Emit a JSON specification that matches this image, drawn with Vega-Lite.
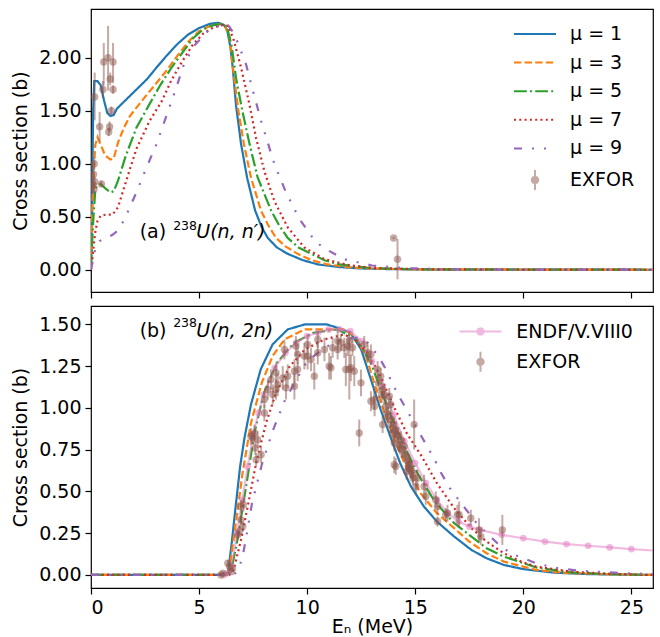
{
"$schema": "https://vega.github.io/schema/vega-lite/v6.json",
"background": "white",
"padding": {"left": 11, "top": 8, "right": 4, "bottom": 0},
"config": {
  "font": "DejaVu Sans",
  "view": {"stroke": "#000", "strokeWidth": 1.2},
  "axis": {"domain": false, "grid": false, "tickColor": "#000", "tickSize": 6, "tickWidth": 1.2,
           "labelFont": "DejaVu Sans", "labelFontSize": 19, "labelColor": "#000", "labelPadding": 4,
           "titleFont": "DejaVu Sans", "titleFontSize": 19, "titleFontWeight": "normal", "titleColor": "#000"},
  "axisX": {"titlePadding": 0},
  "axisY": {"titlePadding": 8},
  "legend": {"labelFont": "DejaVu Sans", "labelFontSize": 19, "labelColor": "#000", "padding": 0}
},
"datasets": {
  "top_lines": [
    {"series":"μ = 1","E":0,"xs":0.02},{"series":"μ = 1","E":0.05,"xs":0.6},{"series":"μ = 1","E":0.1,"xs":1.5},{"series":"μ = 1","E":0.15,"xs":1.78},{"series":"μ = 1","E":0.3,"xs":1.78},{"series":"μ = 1","E":0.45,"xs":1.74},{"series":"μ = 1","E":0.6,"xs":1.6},{"series":"μ = 1","E":0.75,"xs":1.48},{"series":"μ = 1","E":0.9,"xs":1.45},{"series":"μ = 1","E":1.05,"xs":1.46},{"series":"μ = 1","E":1.2,"xs":1.52},{"series":"μ = 1","E":1.5,"xs":1.58},{"series":"μ = 1","E":1.8,"xs":1.64},{"series":"μ = 1","E":2.2,"xs":1.72},{"series":"μ = 1","E":2.6,"xs":1.8},{"series":"μ = 1","E":3.0,"xs":1.9},{"series":"μ = 1","E":3.5,"xs":2.02},{"series":"μ = 1","E":4.0,"xs":2.13},{"series":"μ = 1","E":4.5,"xs":2.22},{"series":"μ = 1","E":5.0,"xs":2.28},{"series":"μ = 1","E":5.5,"xs":2.32},{"series":"μ = 1","E":5.9,"xs":2.33},{"series":"μ = 1","E":6.15,"xs":2.31},{"series":"μ = 1","E":6.3,"xs":2.26},{"series":"μ = 1","E":6.45,"xs":2.1},{"series":"μ = 1","E":6.56,"xs":1.9},{"series":"μ = 1","E":6.71,"xs":1.55},{"series":"μ = 1","E":6.94,"xs":1.19},{"series":"μ = 1","E":7.22,"xs":0.87},{"series":"μ = 1","E":7.59,"xs":0.56},{"series":"μ = 1","E":7.9,"xs":0.4},{"series":"μ = 1","E":8.18,"xs":0.3},{"series":"μ = 1","E":8.6,"xs":0.21},{"series":"μ = 1","E":9.1,"xs":0.15},{"series":"μ = 1","E":9.8,"xs":0.09},{"series":"μ = 1","E":10.5,"xs":0.05},{"series":"μ = 1","E":11.5,"xs":0.025},{"series":"μ = 1","E":12.5,"xs":0.012},{"series":"μ = 1","E":14,"xs":0.005},{"series":"μ = 1","E":16,"xs":0.002},{"series":"μ = 1","E":26,"xs":0},
    {"series":"μ = 3","E":0,"xs":0.05},{"series":"μ = 3","E":0.05,"xs":0.5},{"series":"μ = 3","E":0.12,"xs":0.9},{"series":"μ = 3","E":0.2,"xs":1.18},{"series":"μ = 3","E":0.3,"xs":1.25},{"series":"μ = 3","E":0.45,"xs":1.18},{"series":"μ = 3","E":0.65,"xs":1.08},{"series":"μ = 3","E":0.9,"xs":1.04},{"series":"μ = 3","E":1.05,"xs":1.05},{"series":"μ = 3","E":1.25,"xs":1.2},{"series":"μ = 3","E":1.5,"xs":1.33},{"series":"μ = 3","E":1.8,"xs":1.45},{"series":"μ = 3","E":2.3,"xs":1.58},{"series":"μ = 3","E":2.9,"xs":1.73},{"series":"μ = 3","E":3.5,"xs":1.88},{"series":"μ = 3","E":4.0,"xs":2.02},{"series":"μ = 3","E":4.5,"xs":2.15},{"series":"μ = 3","E":5.0,"xs":2.25},{"series":"μ = 3","E":5.5,"xs":2.3},{"series":"μ = 3","E":6.0,"xs":2.32},{"series":"μ = 3","E":6.2,"xs":2.3},{"series":"μ = 3","E":6.4,"xs":2.2},{"series":"μ = 3","E":6.6,"xs":1.85},{"series":"μ = 3","E":6.82,"xs":1.5},{"series":"μ = 3","E":7.07,"xs":1.19},{"series":"μ = 3","E":7.4,"xs":0.87},{"series":"μ = 3","E":7.86,"xs":0.56},{"series":"μ = 3","E":8.2,"xs":0.42},{"series":"μ = 3","E":8.56,"xs":0.3},{"series":"μ = 3","E":9.0,"xs":0.22},{"series":"μ = 3","E":9.56,"xs":0.15},{"series":"μ = 3","E":10.2,"xs":0.09},{"series":"μ = 3","E":10.95,"xs":0.05},{"series":"μ = 3","E":12,"xs":0.022},{"series":"μ = 3","E":13,"xs":0.012},{"series":"μ = 3","E":15,"xs":0.004},{"series":"μ = 3","E":26,"xs":0},
    {"series":"μ = 5","E":0,"xs":0.02},{"series":"μ = 5","E":0.05,"xs":0.25},{"series":"μ = 5","E":0.1,"xs":0.45},{"series":"μ = 5","E":0.2,"xs":0.76},{"series":"μ = 5","E":0.3,"xs":0.8},{"series":"μ = 5","E":0.45,"xs":0.81},{"series":"μ = 5","E":0.65,"xs":0.77},{"series":"μ = 5","E":0.9,"xs":0.73},{"series":"μ = 5","E":1.05,"xs":0.74},{"series":"μ = 5","E":1.25,"xs":0.84},{"series":"μ = 5","E":1.6,"xs":1.07},{"series":"μ = 5","E":2.1,"xs":1.34},{"series":"μ = 5","E":2.7,"xs":1.56},{"series":"μ = 5","E":3.2,"xs":1.74},{"series":"μ = 5","E":3.7,"xs":1.9},{"series":"μ = 5","E":4.2,"xs":2.04},{"series":"μ = 5","E":4.7,"xs":2.18},{"series":"μ = 5","E":5.2,"xs":2.27},{"series":"μ = 5","E":5.7,"xs":2.31},{"series":"μ = 5","E":6.1,"xs":2.32},{"series":"μ = 5","E":6.3,"xs":2.28},{"series":"μ = 5","E":6.5,"xs":2.12},{"series":"μ = 5","E":6.71,"xs":1.81},{"series":"μ = 5","E":7.0,"xs":1.5},{"series":"μ = 5","E":7.33,"xs":1.19},{"series":"μ = 5","E":7.71,"xs":0.87},{"series":"μ = 5","E":8.33,"xs":0.56},{"series":"μ = 5","E":8.7,"xs":0.42},{"series":"μ = 5","E":9.1,"xs":0.3},{"series":"μ = 5","E":9.6,"xs":0.21},{"series":"μ = 5","E":10.2,"xs":0.15},{"series":"μ = 5","E":10.8,"xs":0.09},{"series":"μ = 5","E":11.5,"xs":0.05},{"series":"μ = 5","E":13,"xs":0.015},{"series":"μ = 5","E":15,"xs":0.004},{"series":"μ = 5","E":26,"xs":0},
    {"series":"μ = 7","E":0,"xs":0},{"series":"μ = 7","E":0.05,"xs":0.08},{"series":"μ = 7","E":0.1,"xs":0.18},{"series":"μ = 7","E":0.2,"xs":0.36},{"series":"μ = 7","E":0.3,"xs":0.46},{"series":"μ = 7","E":0.45,"xs":0.51},{"series":"μ = 7","E":0.7,"xs":0.52},{"series":"μ = 7","E":1.0,"xs":0.52},{"series":"μ = 7","E":1.25,"xs":0.59},{"series":"μ = 7","E":1.6,"xs":0.82},{"series":"μ = 7","E":2.1,"xs":1.14},{"series":"μ = 7","E":2.7,"xs":1.4},{"series":"μ = 7","E":3.3,"xs":1.6},{"series":"μ = 7","E":3.7,"xs":1.78},{"series":"μ = 7","E":4.2,"xs":1.96},{"series":"μ = 7","E":4.7,"xs":2.12},{"series":"μ = 7","E":5.2,"xs":2.23},{"series":"μ = 7","E":5.7,"xs":2.29},{"series":"μ = 7","E":6.1,"xs":2.31},{"series":"μ = 7","E":6.35,"xs":2.3},{"series":"μ = 7","E":6.6,"xs":2.17},{"series":"μ = 7","E":6.94,"xs":1.91},{"series":"μ = 7","E":7.33,"xs":1.56},{"series":"μ = 7","E":7.63,"xs":1.25},{"series":"μ = 7","E":8.02,"xs":0.93},{"series":"μ = 7","E":8.48,"xs":0.65},{"series":"μ = 7","E":9.1,"xs":0.4},{"series":"μ = 7","E":9.87,"xs":0.21},{"series":"μ = 7","E":10.8,"xs":0.1},{"series":"μ = 7","E":12,"xs":0.04},{"series":"μ = 7","E":13,"xs":0.02},{"series":"μ = 7","E":14,"xs":0.01},{"series":"μ = 7","E":16,"xs":0.003},{"series":"μ = 7","E":26,"xs":0},
    {"series":"μ = 9","E":0,"xs":0},{"series":"μ = 9","E":0.1,"xs":0.1},{"series":"μ = 9","E":0.2,"xs":0.2},{"series":"μ = 9","E":0.4,"xs":0.27},{"series":"μ = 9","E":0.7,"xs":0.3},{"series":"μ = 9","E":1.0,"xs":0.33},{"series":"μ = 9","E":1.3,"xs":0.38},{"series":"μ = 9","E":1.6,"xs":0.5},{"series":"μ = 9","E":2.1,"xs":0.73},{"series":"μ = 9","E":2.6,"xs":0.98},{"series":"μ = 9","E":3.0,"xs":1.17},{"series":"μ = 9","E":3.4,"xs":1.4},{"series":"μ = 9","E":3.9,"xs":1.69},{"series":"μ = 9","E":4.3,"xs":1.94},{"series":"μ = 9","E":4.8,"xs":2.12},{"series":"μ = 9","E":5.4,"xs":2.25},{"series":"μ = 9","E":6.0,"xs":2.31},{"series":"μ = 9","E":6.3,"xs":2.32},{"series":"μ = 9","E":6.64,"xs":2.22},{"series":"μ = 9","E":7.17,"xs":1.94},{"series":"μ = 9","E":7.45,"xs":1.72},{"series":"μ = 9","E":7.86,"xs":1.41},{"series":"μ = 9","E":8.48,"xs":1.0},{"series":"μ = 9","E":9.02,"xs":0.73},{"series":"μ = 9","E":9.64,"xs":0.48},{"series":"μ = 9","E":10.4,"xs":0.26},{"series":"μ = 9","E":11.0,"xs":0.18},{"series":"μ = 9","E":11.7,"xs":0.1},{"series":"μ = 9","E":13,"xs":0.04},{"series":"μ = 9","E":14.5,"xs":0.015},{"series":"μ = 9","E":17,"xs":0.003},{"series":"μ = 9","E":26,"xs":0}
  ],
  "top_exfor": [
    {"E":0.10,"xs":0.80,"lo":0.75,"hi":0.85},{"E":0.12,"xs":0.90,"lo":0.85,"hi":0.95},{"E":0.15,"xs":1.00,"lo":0.94,"hi":1.06},{"E":0.17,"xs":0.83,"lo":0.78,"hi":0.88},{"E":0.14,"xs":0.76,"lo":0.71,"hi":0.81},{"E":0.17,"xs":1.63,"lo":1.41,"hi":1.86},{"E":0.40,"xs":1.35,"lo":1.21,"hi":1.49},{"E":0.48,"xs":0.81,"lo":0.78,"hi":0.84},{"E":0.55,"xs":1.70,"lo":1.62,"hi":1.78},{"E":0.59,"xs":1.96,"lo":1.74,"hi":2.14},{"E":0.79,"xs":2.00,"lo":1.69,"hi":2.30},{"E":0.89,"xs":1.80,"lo":1.74,"hi":1.86},{"E":0.86,"xs":1.35,"lo":1.30,"hi":1.40},{"E":0.82,"xs":1.30,"lo":1.26,"hi":1.34},{"E":0.94,"xs":1.50,"lo":1.46,"hi":1.54},{"E":1.02,"xs":1.96,"lo":1.76,"hi":2.14},{"E":1.02,"xs":1.70,"lo":1.66,"hi":1.74},{"E":14.0,"xs":0.30,"lo":0.29,"hi":0.31},{"E":14.18,"xs":0.10,"lo":-0.09,"hi":0.29}
  ],
  "bot_lines": [
    {"series":"μ = 1","E":0,"xs":0},{"series":"μ = 1","E":6.2,"xs":0},{"series":"μ = 1","E":6.35,"xs":0.02},{"series":"μ = 1","E":6.5,"xs":0.18},{"series":"μ = 1","E":6.7,"xs":0.42},{"series":"μ = 1","E":6.9,"xs":0.65},{"series":"μ = 1","E":7.1,"xs":0.82},{"series":"μ = 1","E":7.4,"xs":1.02},{"series":"μ = 1","E":7.85,"xs":1.23},{"series":"μ = 1","E":8.4,"xs":1.38},{"series":"μ = 1","E":9.1,"xs":1.47},{"series":"μ = 1","E":9.9,"xs":1.5},{"series":"μ = 1","E":10.9,"xs":1.5},{"series":"μ = 1","E":11.4,"xs":1.48},{"series":"μ = 1","E":12.0,"xs":1.45},{"series":"μ = 1","E":12.5,"xs":1.35},{"series":"μ = 1","E":12.95,"xs":1.17},{"series":"μ = 1","E":13.4,"xs":0.99},{"series":"μ = 1","E":13.9,"xs":0.81},{"series":"μ = 1","E":14.3,"xs":0.67},{"series":"μ = 1","E":14.8,"xs":0.53},{"series":"μ = 1","E":15.4,"xs":0.41},{"series":"μ = 1","E":16.0,"xs":0.32},{"series":"μ = 1","E":16.8,"xs":0.23},{"series":"μ = 1","E":17.6,"xs":0.15},{"series":"μ = 1","E":18.3,"xs":0.1},{"series":"μ = 1","E":19.1,"xs":0.06},{"series":"μ = 1","E":20.0,"xs":0.035},{"series":"μ = 1","E":21.4,"xs":0.014},{"series":"μ = 1","E":23,"xs":0.005},{"series":"μ = 1","E":26,"xs":0},
    {"series":"μ = 3","E":0,"xs":0},{"series":"μ = 3","E":6.2,"xs":0},{"series":"μ = 3","E":6.4,"xs":0.03},{"series":"μ = 3","E":6.7,"xs":0.31},{"series":"μ = 3","E":7.0,"xs":0.6},{"series":"μ = 3","E":7.4,"xs":0.91},{"series":"μ = 3","E":7.9,"xs":1.15},{"series":"μ = 3","E":8.4,"xs":1.31},{"series":"μ = 3","E":8.95,"xs":1.41},{"series":"μ = 3","E":9.9,"xs":1.47},{"series":"μ = 3","E":11.0,"xs":1.47},{"series":"μ = 3","E":11.7,"xs":1.47},{"series":"μ = 3","E":12.2,"xs":1.43},{"series":"μ = 3","E":12.7,"xs":1.32},{"series":"μ = 3","E":13.15,"xs":1.13},{"series":"μ = 3","E":13.6,"xs":0.96},{"series":"μ = 3","E":14.1,"xs":0.79},{"series":"μ = 3","E":14.6,"xs":0.64},{"series":"μ = 3","E":15.25,"xs":0.49},{"series":"μ = 3","E":16.0,"xs":0.37},{"series":"μ = 3","E":16.8,"xs":0.28},{"series":"μ = 3","E":17.5,"xs":0.2},{"series":"μ = 3","E":18.3,"xs":0.13},{"series":"μ = 3","E":19.1,"xs":0.08},{"series":"μ = 3","E":20.6,"xs":0.03},{"series":"μ = 3","E":22,"xs":0.012},{"series":"μ = 3","E":24,"xs":0.004},{"series":"μ = 3","E":26,"xs":0},
    {"series":"μ = 5","E":0,"xs":0},{"series":"μ = 5","E":6.3,"xs":0},{"series":"μ = 5","E":6.5,"xs":0.03},{"series":"μ = 5","E":6.8,"xs":0.23},{"series":"μ = 5","E":7.2,"xs":0.55},{"series":"μ = 5","E":7.56,"xs":0.85},{"series":"μ = 5","E":8.0,"xs":1.09},{"series":"μ = 5","E":8.6,"xs":1.27},{"series":"μ = 5","E":9.4,"xs":1.39},{"series":"μ = 5","E":10.3,"xs":1.45},{"series":"μ = 5","E":11.4,"xs":1.47},{"series":"μ = 5","E":12.3,"xs":1.41},{"series":"μ = 5","E":12.95,"xs":1.27},{"series":"μ = 5","E":13.4,"xs":1.11},{"series":"μ = 5","E":13.9,"xs":0.95},{"series":"μ = 5","E":14.5,"xs":0.77},{"series":"μ = 5","E":15.1,"xs":0.61},{"series":"μ = 5","E":15.9,"xs":0.44},{"series":"μ = 5","E":16.8,"xs":0.31},{"series":"μ = 5","E":17.6,"xs":0.23},{"series":"μ = 5","E":18.3,"xs":0.16},{"series":"μ = 5","E":19.1,"xs":0.11},{"series":"μ = 5","E":20.6,"xs":0.045},{"series":"μ = 5","E":22.2,"xs":0.015},{"series":"μ = 5","E":24,"xs":0.005},{"series":"μ = 5","E":26,"xs":0},
    {"series":"μ = 7","E":0,"xs":0},{"series":"μ = 7","E":6.4,"xs":0},{"series":"μ = 7","E":6.6,"xs":0.03},{"series":"μ = 7","E":6.94,"xs":0.21},{"series":"μ = 7","E":7.25,"xs":0.41},{"series":"μ = 7","E":7.64,"xs":0.67},{"series":"μ = 7","E":8.1,"xs":0.91},{"series":"μ = 7","E":8.56,"xs":1.09},{"series":"μ = 7","E":9.2,"xs":1.25},{"series":"μ = 7","E":9.9,"xs":1.35},{"series":"μ = 7","E":10.8,"xs":1.41},{"series":"μ = 7","E":11.7,"xs":1.44},{"series":"μ = 7","E":12.2,"xs":1.41},{"series":"μ = 7","E":12.8,"xs":1.33},{"series":"μ = 7","E":13.4,"xs":1.19},{"series":"μ = 7","E":14.0,"xs":1.01},{"series":"μ = 7","E":14.6,"xs":0.85},{"series":"μ = 7","E":15.3,"xs":0.71},{"series":"μ = 7","E":16.0,"xs":0.55},{"series":"μ = 7","E":16.8,"xs":0.4},{"series":"μ = 7","E":17.6,"xs":0.28},{"series":"μ = 7","E":18.3,"xs":0.2},{"series":"μ = 7","E":19.1,"xs":0.13},{"series":"μ = 7","E":19.9,"xs":0.08},{"series":"μ = 7","E":20.6,"xs":0.05},{"series":"μ = 7","E":22.2,"xs":0.02},{"series":"μ = 7","E":24,"xs":0.007},{"series":"μ = 7","E":26,"xs":0},
    {"series":"μ = 9","E":0,"xs":0},{"series":"μ = 9","E":6.6,"xs":0},{"series":"μ = 9","E":6.8,"xs":0.03},{"series":"μ = 9","E":7.0,"xs":0.1},{"series":"μ = 9","E":7.2,"xs":0.24},{"series":"μ = 9","E":7.45,"xs":0.43},{"series":"μ = 9","E":7.9,"xs":0.66},{"series":"μ = 9","E":8.4,"xs":0.86},{"series":"μ = 9","E":8.95,"xs":1.04},{"series":"μ = 9","E":9.5,"xs":1.17},{"series":"μ = 9","E":10.0,"xs":1.28},{"series":"μ = 9","E":10.8,"xs":1.36},{"series":"μ = 9","E":11.6,"xs":1.41},{"series":"μ = 9","E":12.3,"xs":1.42},{"series":"μ = 9","E":12.8,"xs":1.39},{"series":"μ = 9","E":13.3,"xs":1.31},{"series":"μ = 9","E":13.6,"xs":1.24},{"series":"μ = 9","E":14.2,"xs":1.08},{"series":"μ = 9","E":14.6,"xs":0.99},{"series":"μ = 9","E":15.2,"xs":0.85},{"series":"μ = 9","E":15.9,"xs":0.69},{"series":"μ = 9","E":16.2,"xs":0.61},{"series":"μ = 9","E":16.6,"xs":0.52},{"series":"μ = 9","E":17.3,"xs":0.4},{"series":"μ = 9","E":17.9,"xs":0.3},{"series":"μ = 9","E":18.8,"xs":0.19},{"series":"μ = 9","E":19.4,"xs":0.13},{"series":"μ = 9","E":20.6,"xs":0.07},{"series":"μ = 9","E":21.4,"xs":0.045},{"series":"μ = 9","E":22.6,"xs":0.025},{"series":"μ = 9","E":24.8,"xs":0.01},{"series":"μ = 9","E":26,"xs":0.005}
  ],
  "bot_endf": [
    {"E":6.15,"xs":0},{"E":6.3,"xs":0.01},{"E":6.5,"xs":0.05},{"E":6.75,"xs":0.25},{"E":7.0,"xs":0.45},{"E":7.25,"xs":0.65},{"E":7.5,"xs":0.84},{"E":7.75,"xs":0.97},{"E":8.0,"xs":1.08},{"E":8.5,"xs":1.24},{"E":9.0,"xs":1.33},{"E":9.5,"xs":1.39},{"E":10.0,"xs":1.43},{"E":10.5,"xs":1.45},{"E":11.0,"xs":1.47},{"E":11.5,"xs":1.47},{"E":12.0,"xs":1.46},{"E":12.5,"xs":1.4},{"E":13.0,"xs":1.28},{"E":13.5,"xs":1.13},{"E":14.0,"xs":0.96},{"E":14.5,"xs":0.8},{"E":15.0,"xs":0.67},{"E":15.5,"xs":0.55},{"E":16.0,"xs":0.45},{"E":16.5,"xs":0.37},{"E":17.0,"xs":0.32},{"E":17.5,"xs":0.29},{"E":18.0,"xs":0.27},{"E":19.0,"xs":0.24},{"E":20.0,"xs":0.22},{"E":21.0,"xs":0.2},{"E":22.0,"xs":0.185},{"E":23.0,"xs":0.175},{"E":24.0,"xs":0.165},{"E":25.0,"xs":0.155},{"E":27.0,"xs":0.138}
  ],
  "bot_exfor": [
    {"E":6.02,"xs":0.00,"lo":-0.01,"hi":0.01},{"E":6.10,"xs":0.01,"lo":0.00,"hi":0.02},{"E":6.33,"xs":0.07,"lo":0.05,"hi":0.09},{"E":6.41,"xs":0.05,"lo":0.03,"hi":0.07},{"E":6.48,"xs":0.02,"lo":0.01,"hi":0.03},{"E":6.55,"xs":0.04,"lo":0.03,"hi":0.05},
    {"E":6.79,"xs":0.24,"lo":0.21,"hi":0.27},{"E":6.86,"xs":0.26,"lo":0.23,"hi":0.29},{"E":6.94,"xs":0.33,"lo":0.30,"hi":0.36},{"E":6.94,"xs":0.41,"lo":0.37,"hi":0.45},{"E":7.02,"xs":0.29,"lo":0.26,"hi":0.32},{"E":7.05,"xs":0.42,"lo":0.38,"hi":0.46},
    {"E":7.40,"xs":0.83,"lo":0.78,"hi":0.88},{"E":7.48,"xs":0.82,"lo":0.78,"hi":0.86},{"E":7.56,"xs":0.85,"lo":0.80,"hi":0.90},{"E":7.60,"xs":0.76,"lo":0.72,"hi":0.80},{"E":7.64,"xs":0.69,"lo":0.65,"hi":0.73},{"E":7.71,"xs":0.81,"lo":0.76,"hi":0.86},{"E":7.87,"xs":0.72,"lo":0.67,"hi":0.77},
    {"E":8.02,"xs":0.97,"lo":0.92,"hi":1.02},{"E":8.02,"xs":1.05,"lo":1.00,"hi":1.10},{"E":8.18,"xs":1.11,"lo":1.05,"hi":1.17},{"E":8.33,"xs":1.17,"lo":1.11,"hi":1.23},{"E":8.41,"xs":1.08,"lo":1.02,"hi":1.14},{"E":8.56,"xs":1.21,"lo":1.15,"hi":1.27},{"E":8.56,"xs":1.11,"lo":1.05,"hi":1.17},{"E":8.64,"xs":1.14,"lo":1.07,"hi":1.21},{"E":8.87,"xs":1.18,"lo":1.11,"hi":1.25},{"E":8.95,"xs":1.35,"lo":1.29,"hi":1.41},
    {"E":9.02,"xs":1.12,"lo":1.05,"hi":1.19},{"E":9.10,"xs":1.19,"lo":1.12,"hi":1.26},{"E":9.41,"xs":1.13,"lo":1.05,"hi":1.21},{"E":9.41,"xs":1.22,"lo":1.15,"hi":1.29},{"E":9.48,"xs":1.37,"lo":1.31,"hi":1.43},{"E":9.56,"xs":1.23,"lo":1.16,"hi":1.30},{"E":9.56,"xs":1.32,"lo":1.26,"hi":1.38},{"E":9.87,"xs":1.31,"lo":1.23,"hi":1.39},
    {"E":10.02,"xs":1.31,"lo":1.23,"hi":1.39},{"E":10.02,"xs":1.38,"lo":1.32,"hi":1.44},{"E":10.18,"xs":1.29,"lo":1.22,"hi":1.36},{"E":10.33,"xs":1.19,"lo":1.11,"hi":1.27},{"E":10.49,"xs":1.41,"lo":1.36,"hi":1.46},{"E":10.49,"xs":1.33,"lo":1.26,"hi":1.40},{"E":10.80,"xs":1.35,"lo":1.28,"hi":1.42},
    {"E":11.02,"xs":1.25,"lo":1.17,"hi":1.33},{"E":11.10,"xs":1.24,"lo":1.17,"hi":1.31},{"E":11.18,"xs":1.36,"lo":1.30,"hi":1.42},{"E":11.41,"xs":1.40,"lo":1.34,"hi":1.46},{"E":11.41,"xs":1.35,"lo":1.29,"hi":1.41},{"E":11.56,"xs":1.39,"lo":1.34,"hi":1.44},{"E":11.72,"xs":1.36,"lo":1.30,"hi":1.42},{"E":11.79,"xs":1.23,"lo":1.13,"hi":1.33},{"E":11.87,"xs":1.37,"lo":1.31,"hi":1.43},{"E":11.95,"xs":1.40,"lo":1.34,"hi":1.46},{"E":11.95,"xs":1.23,"lo":1.05,"hi":1.41},
    {"E":12.02,"xs":1.24,"lo":1.16,"hi":1.32},{"E":12.10,"xs":1.36,"lo":1.31,"hi":1.41},{"E":12.18,"xs":1.22,"lo":1.13,"hi":1.31},{"E":12.41,"xs":0.85,"lo":0.77,"hi":0.93},{"E":12.49,"xs":1.15,"lo":1.07,"hi":1.23},{"E":12.64,"xs":1.38,"lo":1.33,"hi":1.43},{"E":12.80,"xs":1.33,"lo":1.28,"hi":1.38},{"E":12.95,"xs":1.32,"lo":1.26,"hi":1.38},{"E":12.95,"xs":1.04,"lo":0.98,"hi":1.10},
    {"E":13.10,"xs":1.05,"lo":0.99,"hi":1.11},{"E":13.12,"xs":1.01,"lo":0.95,"hi":1.07},{"E":13.26,"xs":1.23,"lo":1.18,"hi":1.28},{"E":13.30,"xs":1.15,"lo":1.10,"hi":1.20},{"E":13.40,"xs":1.19,"lo":1.14,"hi":1.24},{"E":13.45,"xs":1.08,"lo":1.03,"hi":1.13},{"E":13.49,"xs":1.11,"lo":1.05,"hi":1.17},{"E":13.49,"xs":0.90,"lo":0.85,"hi":0.95},{"E":13.57,"xs":1.08,"lo":1.02,"hi":1.14},{"E":13.64,"xs":1.01,"lo":0.95,"hi":1.07},{"E":13.70,"xs":0.97,"lo":0.92,"hi":1.02},{"E":13.75,"xs":0.95,"lo":0.91,"hi":0.99},{"E":13.80,"xs":1.07,"lo":1.02,"hi":1.12},{"E":13.87,"xs":0.90,"lo":0.85,"hi":0.95},{"E":13.87,"xs":1.02,"lo":0.97,"hi":1.07},{"E":13.90,"xs":0.93,"lo":0.89,"hi":0.97},{"E":13.95,"xs":0.85,"lo":0.80,"hi":0.90},
    {"E":14.00,"xs":0.90,"lo":0.86,"hi":0.94},{"E":14.03,"xs":0.79,"lo":0.74,"hi":0.84},{"E":14.03,"xs":0.66,"lo":0.61,"hi":0.71},{"E":14.05,"xs":0.86,"lo":0.82,"hi":0.90},{"E":14.10,"xs":0.87,"lo":0.82,"hi":0.92},{"E":14.10,"xs":0.65,"lo":0.60,"hi":0.70},{"E":14.15,"xs":0.84,"lo":0.80,"hi":0.88},{"E":14.20,"xs":0.83,"lo":0.78,"hi":0.88},{"E":14.25,"xs":0.78,"lo":0.74,"hi":0.82},{"E":14.30,"xs":0.76,"lo":0.72,"hi":0.80},{"E":14.33,"xs":0.81,"lo":0.76,"hi":0.86},{"E":14.40,"xs":0.75,"lo":0.70,"hi":0.80},{"E":14.49,"xs":0.77,"lo":0.72,"hi":0.82},{"E":14.50,"xs":0.72,"lo":0.68,"hi":0.76},{"E":14.57,"xs":0.71,"lo":0.66,"hi":0.76},{"E":14.60,"xs":0.62,"lo":0.57,"hi":0.67},{"E":14.65,"xs":0.68,"lo":0.64,"hi":0.72},{"E":14.70,"xs":0.64,"lo":0.60,"hi":0.68},{"E":14.72,"xs":0.67,"lo":0.62,"hi":0.72},{"E":14.75,"xs":0.66,"lo":0.62,"hi":0.70},{"E":14.80,"xs":0.63,"lo":0.58,"hi":0.68},{"E":14.85,"xs":0.62,"lo":0.58,"hi":0.66},{"E":14.88,"xs":0.60,"lo":0.55,"hi":0.65},{"E":14.90,"xs":0.58,"lo":0.54,"hi":0.62},{"E":14.95,"xs":0.90,"lo":0.75,"hi":1.05},
    {"E":15.03,"xs":0.53,"lo":0.48,"hi":0.58},{"E":15.10,"xs":0.58,"lo":0.53,"hi":0.63},{"E":15.41,"xs":0.53,"lo":0.46,"hi":0.60},{"E":15.49,"xs":0.47,"lo":0.42,"hi":0.52},{"E":15.95,"xs":0.45,"lo":0.40,"hi":0.50},{"E":16.03,"xs":0.41,"lo":0.36,"hi":0.46},{"E":16.03,"xs":0.32,"lo":0.29,"hi":0.35},{"E":16.41,"xs":0.36,"lo":0.32,"hi":0.40},{"E":16.49,"xs":0.37,"lo":0.32,"hi":0.42},{"E":16.95,"xs":0.36,"lo":0.30,"hi":0.42},{"E":17.03,"xs":0.36,"lo":0.28,"hi":0.44},{"E":17.57,"xs":0.34,"lo":0.29,"hi":0.39},{"E":17.95,"xs":0.27,"lo":0.20,"hi":0.34},{"E":18.03,"xs":0.23,"lo":0.18,"hi":0.28},{"E":19.03,"xs":0.27,"lo":0.18,"hi":0.36}
  ]
},
"spacing": 14,
"bounds": "flush",
"resolve": {"scale": {"color": "independent", "strokeDash": "independent"}},
"vconcat": [
  {
    "width": 562, "height": 283,
    "encoding": {
      "x": {"field": "E", "type": "quantitative", "scale": {"domain": [0, 26], "nice": false, "zero": false},
            "axis": {"values": [0, 5, 10, 15, 20, 25], "labels": false, "title": null}},
      "y": {"field": "xs", "type": "quantitative", "scale": {"domain": [-0.21, 2.46], "nice": false, "zero": false},
            "axis": {"values": [0, 0.5, 1, 1.5, 2], "format": ".2f", "title": "Cross section (b)"}}
    },
    "layer": [
      {
        "data": {"name": "top_lines"},
        "mark": {"type": "line", "strokeWidth": 2.2, "clip": true},
        "encoding": {
          "color": {"field": "series", "type": "nominal",
            "scale": {"domain": ["μ = 1", "μ = 3", "μ = 5", "μ = 7", "μ = 9", "EXFOR"],
                      "range": ["#1f77b4", "#ff7f0e", "#2ca02c", "#d62728", "#9467bd", "#8c564b"]},
            "legend": {
              "title": null, "orient": "none", "legendX": 432.5, "legendY": 13.5,
              "symbolType": "M-2,0L2,0", "symbolSize": 441, "symbolStrokeWidth": 2,
              "labelOffset": 23.5, "rowPadding": 6.6, "padding": 0,
              "encode": {"symbols": {"update": {
                "shape": {"signal": "datum.value == 'EXFOR' ? 'M0,-0.95L0,0.95M0.3,0A0.3,0.3,0,1,1,-0.3,0A0.3,0.3,0,1,1,0.3,0Z' : 'M-2,0L2,0'"},
                "stroke": {"signal": "datum.value == 'EXFOR' ? '#8c564b' : datum.value == 'μ = 1' ? '#1f77b4' : datum.value == 'μ = 3' ? '#ff7f0e' : datum.value == 'μ = 5' ? '#2ca02c' : datum.value == 'μ = 7' ? '#d62728' : '#9467bd'"},
                "fill": {"signal": "datum.value == 'EXFOR' ? '#8c564b' : 'transparent'"},
                "opacity": {"signal": "datum.value == 'EXFOR' ? 0.5 : 1"},
                "strokeDash": {"signal": "datum.value == 'μ = 3' ? [7.4,3.2] : datum.value == 'μ = 5' ? [12.8,3.2,2,3.2] : datum.value == 'μ = 7' ? [2,3.3] : datum.value == 'μ = 9' ? [8,10,2,10,2,10] : [1,0]"},
                "strokeWidth": {"value": 2}
              }}}
            }},
          "strokeDash": {"field": "series", "type": "nominal",
            "scale": {"domain": ["μ = 1", "μ = 3", "μ = 5", "μ = 7", "μ = 9"],
                      "range": [[1, 0], [7.4, 3.2], [12.8, 3.2, 2, 3.2], [2, 3.3], [8, 10, 2, 10, 2, 10]]},
            "legend": null}
        }
      },
      {
        "data": {"name": "top_exfor"},
        "mark": {"type": "rule", "strokeWidth": 2, "opacity": 0.5, "color": "#8c564b", "clip": true},
        "encoding": {
          "y": {"field": "lo", "type": "quantitative", "scale": {"domain": [-0.21, 2.46], "nice": false, "zero": false},
                "axis": {"values": [0, 0.5, 1, 1.5, 2], "format": ".2f", "title": "Cross section (b)"}},
          "y2": {"field": "hi"}
        }
      },
      {
        "data": {"name": "top_exfor"},
        "mark": {"type": "circle", "size": 55, "opacity": 0.5, "color": "#8c564b", "clip": true}
      },
      {
        "data": {"values": [{"E": 2.25, "xs": 0.36, "t": "(a)"}]},
        "mark": {"type": "text", "fontSize": 19, "align": "left", "baseline": "middle", "color": "#000"},
        "encoding": {"text": {"field": "t"}}
      },
      {
        "data": {"values": [{"E": 3.8, "xs": 0.41, "t": "238"}]},
        "mark": {"type": "text", "fontSize": 12.5, "align": "left", "baseline": "middle", "color": "#000"},
        "encoding": {"text": {"field": "t"}}
      },
      {
        "data": {"values": [{"E": 4.87, "xs": 0.36, "t": "U(n, n′)"}]},
        "mark": {"type": "text", "fontSize": 19, "fontStyle": "italic", "align": "left", "baseline": "middle", "color": "#000"},
        "encoding": {"text": {"field": "t"}}
      }
    ]
  },
  {
    "width": 562, "height": 282,
    "encoding": {
      "x": {"field": "E", "type": "quantitative", "scale": {"domain": [0, 26], "nice": false, "zero": false},
            "axis": {"values": [0, 5, 10, 15, 20, 25], "title": "Eₙ (MeV)"}},
      "y": {"field": "xs", "type": "quantitative", "scale": {"domain": [-0.078, 1.61], "nice": false, "zero": false},
            "axis": {"values": [0, 0.25, 0.5, 0.75, 1, 1.25, 1.5], "format": ".2f", "title": "Cross section (b)"}}
    },
    "layer": [
      {
        "data": {"name": "bot_lines"},
        "mark": {"type": "line", "strokeWidth": 2.2, "clip": true},
        "encoding": {
          "color": {"field": "series", "type": "nominal",
            "scale": {"domain": ["μ = 1", "μ = 3", "μ = 5", "μ = 7", "μ = 9", "ENDF/V.VIII0", "EXFOR"],
                      "range": ["#1f77b4", "#ff7f0e", "#2ca02c", "#d62728", "#9467bd", "#e377c2", "#8c564b"]},
            "legend": {
              "title": null, "orient": "none", "legendX": 378, "legendY": 14,
              "values": ["ENDF/V.VIII0", "EXFOR"],
              "symbolType": "M-2,0L2,0", "symbolSize": 441, "symbolStrokeWidth": 2,
              "labelOffset": 24.3, "rowPadding": 5.3, "padding": 0,
              "encode": {"symbols": {"update": {
                "shape": {"signal": "datum.value == 'EXFOR' ? 'M0,-0.95L0,0.95M0.3,0A0.3,0.3,0,1,1,-0.3,0A0.3,0.3,0,1,1,0.3,0Z' : 'M-2,0L2,0M0.3,0A0.3,0.3,0,1,1,-0.3,0A0.3,0.3,0,1,1,0.3,0Z'"},
                "stroke": {"signal": "datum.value == 'EXFOR' ? '#8c564b' : '#e377c2'"},
                "fill": {"signal": "datum.value == 'EXFOR' ? '#8c564b' : '#e377c2'"},
                "opacity": {"value": 0.5},
                "strokeDash": {"signal": "[1,0]"},
                "strokeWidth": {"value": 2}
              }}}
            }},
          "strokeDash": {"field": "series", "type": "nominal",
            "scale": {"domain": ["μ = 1", "μ = 3", "μ = 5", "μ = 7", "μ = 9"],
                      "range": [[1, 0], [7.4, 3.2], [12.8, 3.2, 2, 3.2], [2, 3.3], [8, 10, 2, 10, 2, 10]]},
            "legend": null}
        }
      },
      {
        "data": {"name": "bot_endf"},
        "mark": {"type": "line", "strokeWidth": 2.2, "opacity": 0.5, "color": "#e377c2", "clip": true}
      },
      {
        "data": {"name": "bot_endf"},
        "mark": {"type": "circle", "size": 45, "opacity": 0.5, "color": "#e377c2", "clip": true}
      },
      {
        "data": {"name": "bot_exfor"},
        "mark": {"type": "rule", "strokeWidth": 2, "opacity": 0.5, "color": "#8c564b", "clip": true},
        "encoding": {
          "y": {"field": "lo", "type": "quantitative", "scale": {"domain": [-0.078, 1.61], "nice": false, "zero": false},
                "axis": {"values": [0, 0.25, 0.5, 0.75, 1, 1.25, 1.5], "format": ".2f", "title": "Cross section (b)"}},
          "y2": {"field": "hi"}
        }
      },
      {
        "data": {"name": "bot_exfor"},
        "mark": {"type": "circle", "size": 55, "opacity": 0.5, "color": "#8c564b", "clip": true}
      },
      {
        "data": {"values": [{"E": 2.25, "xs": 1.46, "t": "(b)"}]},
        "mark": {"type": "text", "fontSize": 19, "align": "left", "baseline": "middle", "color": "#000"},
        "encoding": {"text": {"field": "t"}}
      },
      {
        "data": {"values": [{"E": 3.8, "xs": 1.51, "t": "238"}]},
        "mark": {"type": "text", "fontSize": 12.5, "align": "left", "baseline": "middle", "color": "#000"},
        "encoding": {"text": {"field": "t"}}
      },
      {
        "data": {"values": [{"E": 4.87, "xs": 1.46, "t": "U(n, 2n)"}]},
        "mark": {"type": "text", "fontSize": 19, "fontStyle": "italic", "align": "left", "baseline": "middle", "color": "#000"},
        "encoding": {"text": {"field": "t"}}
      }
    ]
  }
]
}
